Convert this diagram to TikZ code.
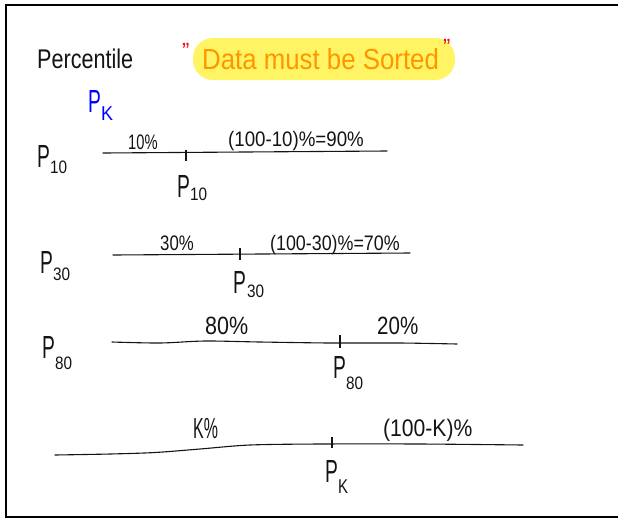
\documentclass[tikz,border=0pt]{standalone}
\usepackage{fontspec}
\setmainfont{Liberation Sans}
\usepackage{graphicx}
\newcommand\hw[3]{\scalebox{#1}[1]{\fontsize{#2}{#2}\selectfont #3}}
\definecolor{hl}{RGB}{255,245,100}
\definecolor{orng}{RGB}{255,150,0}
\definecolor{ink}{RGB}{20,20,20}
\begin{document}
\begin{tikzpicture}[x=1pt,y=-1pt,
  txt/.style={inner sep=0pt, anchor=base west, text=ink},
  nline/.style={line width=1.1pt, draw=ink, line cap=round},
  tickmark/.style={line width=2pt, draw=ink},
  frameline/.style={line width=2.2pt, draw=black}]
\useasboundingbox (0,0) rectangle (618,520);
% frame
\coordinate (f1) at (618,5);
\coordinate (f2) at (6,5);
\coordinate (f3) at (6,517);
\coordinate (f4) at (618,517);
\draw[frameline] (f1) -- (f2) -- (f3) -- (f4);

% title
\node[txt] (title) at (37,68) {\hw{0.8}{27}{Percentile}};
\node[fill=hl, rounded corners=20pt, minimum width=262pt, minimum height=42pt, inner sep=0pt] (hlbox) at (324,59) {};
\node[txt, text=orng] (sorted) at (202,69) {\hw{0.89}{29}{Data must be Sorted}};
\node[txt, text=red] (q1) at (182,58) {\hw{1}{22}{"}};
\node[txt, text=red] (q2) at (443,54) {\hw{1}{22}{"}};

% P_K blue
\node[txt, text=blue] (pk) at (88,112) {\hw{0.6}{32}{P}};
\node[txt, text=blue] (pks) at (101,120) {\hw{0.9}{20}{K}};

% P10 row
\node[txt] (p10a) at (37,167) {\hw{0.6}{32}{P}};
\node[txt] (p10as) at (50,173) {\hw{0.85}{18}{10}};
\coordinate (l1a) at (103,153);
\coordinate (l1b) at (387,151);
\draw[nline] (l1a) -- (l1b);
\coordinate (t1a) at (186,150);
\coordinate (t1b) at (186,161);
\draw[tickmark] (t1a) -- (t1b);
\node[txt] (l1left) at (128,149) {\hw{0.7}{21}{10\%}};
\node[txt] (l1right) at (228,146) {\hw{0.89}{21}{(100-10)\%=90\%}};
\node[txt] (p10b) at (177,197) {\hw{0.6}{32}{P}};
\node[txt] (p10bs) at (190,200) {\hw{0.85}{18}{10}};

% P30 row
\node[txt] (p30a) at (40,273) {\hw{0.6}{32}{P}};
\node[txt] (p30as) at (53,280) {\hw{0.85}{18}{30}};
\coordinate (l2a) at (113,255);
\coordinate (l2b) at (410,253);
\draw[nline] (l2a) -- (l2b);
\coordinate (t2a) at (240,248);
\coordinate (t2b) at (240,260);
\draw[tickmark] (t2a) -- (t2b);
\node[txt] (l2left) at (160,250) {\hw{0.8}{21}{30\%}};
\node[txt] (l2right) at (270,250) {\hw{0.85}{21}{(100-30)\%=70\%}};
\node[txt] (p30b) at (233,293) {\hw{0.6}{32}{P}};
\node[txt] (p30bs) at (247,297) {\hw{0.85}{18}{30}};

% P80 row
\node[txt] (p80a) at (42,358) {\hw{0.6}{32}{P}};
\node[txt] (p80as) at (55,369) {\hw{0.85}{18}{80}};
\coordinate (l3a) at (112,342);
\coordinate (l3b) at (457,344);
\draw[nline] plot[smooth] coordinates {(112,342) (160,343) (205,341) (260,342) (330,343) (400,343) (457,344)};
\coordinate (t3a) at (340,335);
\coordinate (t3b) at (340,348);
\draw[tickmark] (t3a) -- (t3b);
\node[txt] (l3left) at (205,334) {\hw{0.86}{25}{80\%}};
\node[txt] (l3right) at (377,334) {\hw{0.82}{25}{20\%}};
\node[txt] (p80b) at (333,378) {\hw{0.6}{32}{P}};
\node[txt] (p80bs) at (346,389) {\hw{0.85}{18}{80}};

% P_K row
\coordinate (l4a) at (55,455);
\coordinate (l4b) at (523,445);
\draw[nline] plot[smooth] coordinates {(55,455) (110,454) (155,452.5) (200,449) (250,445) (320,444) (420,444) (523,445)};
\coordinate (t4a) at (332,437);
\coordinate (t4b) at (332,448);
\draw[tickmark] (t4a) -- (t4b);
\node[txt] (l4left) at (193,438) {\hw{0.55}{29}{K\%}};
\node[txt] (l4right) at (383,436) {\hw{0.88}{24}{(100-K)\%}};
\node[txt] (pkb) at (325,482) {\hw{0.6}{32}{P}};
\node[txt] (pkbs) at (338,493) {\hw{0.75}{20}{K}};
\end{tikzpicture}
\end{document}
